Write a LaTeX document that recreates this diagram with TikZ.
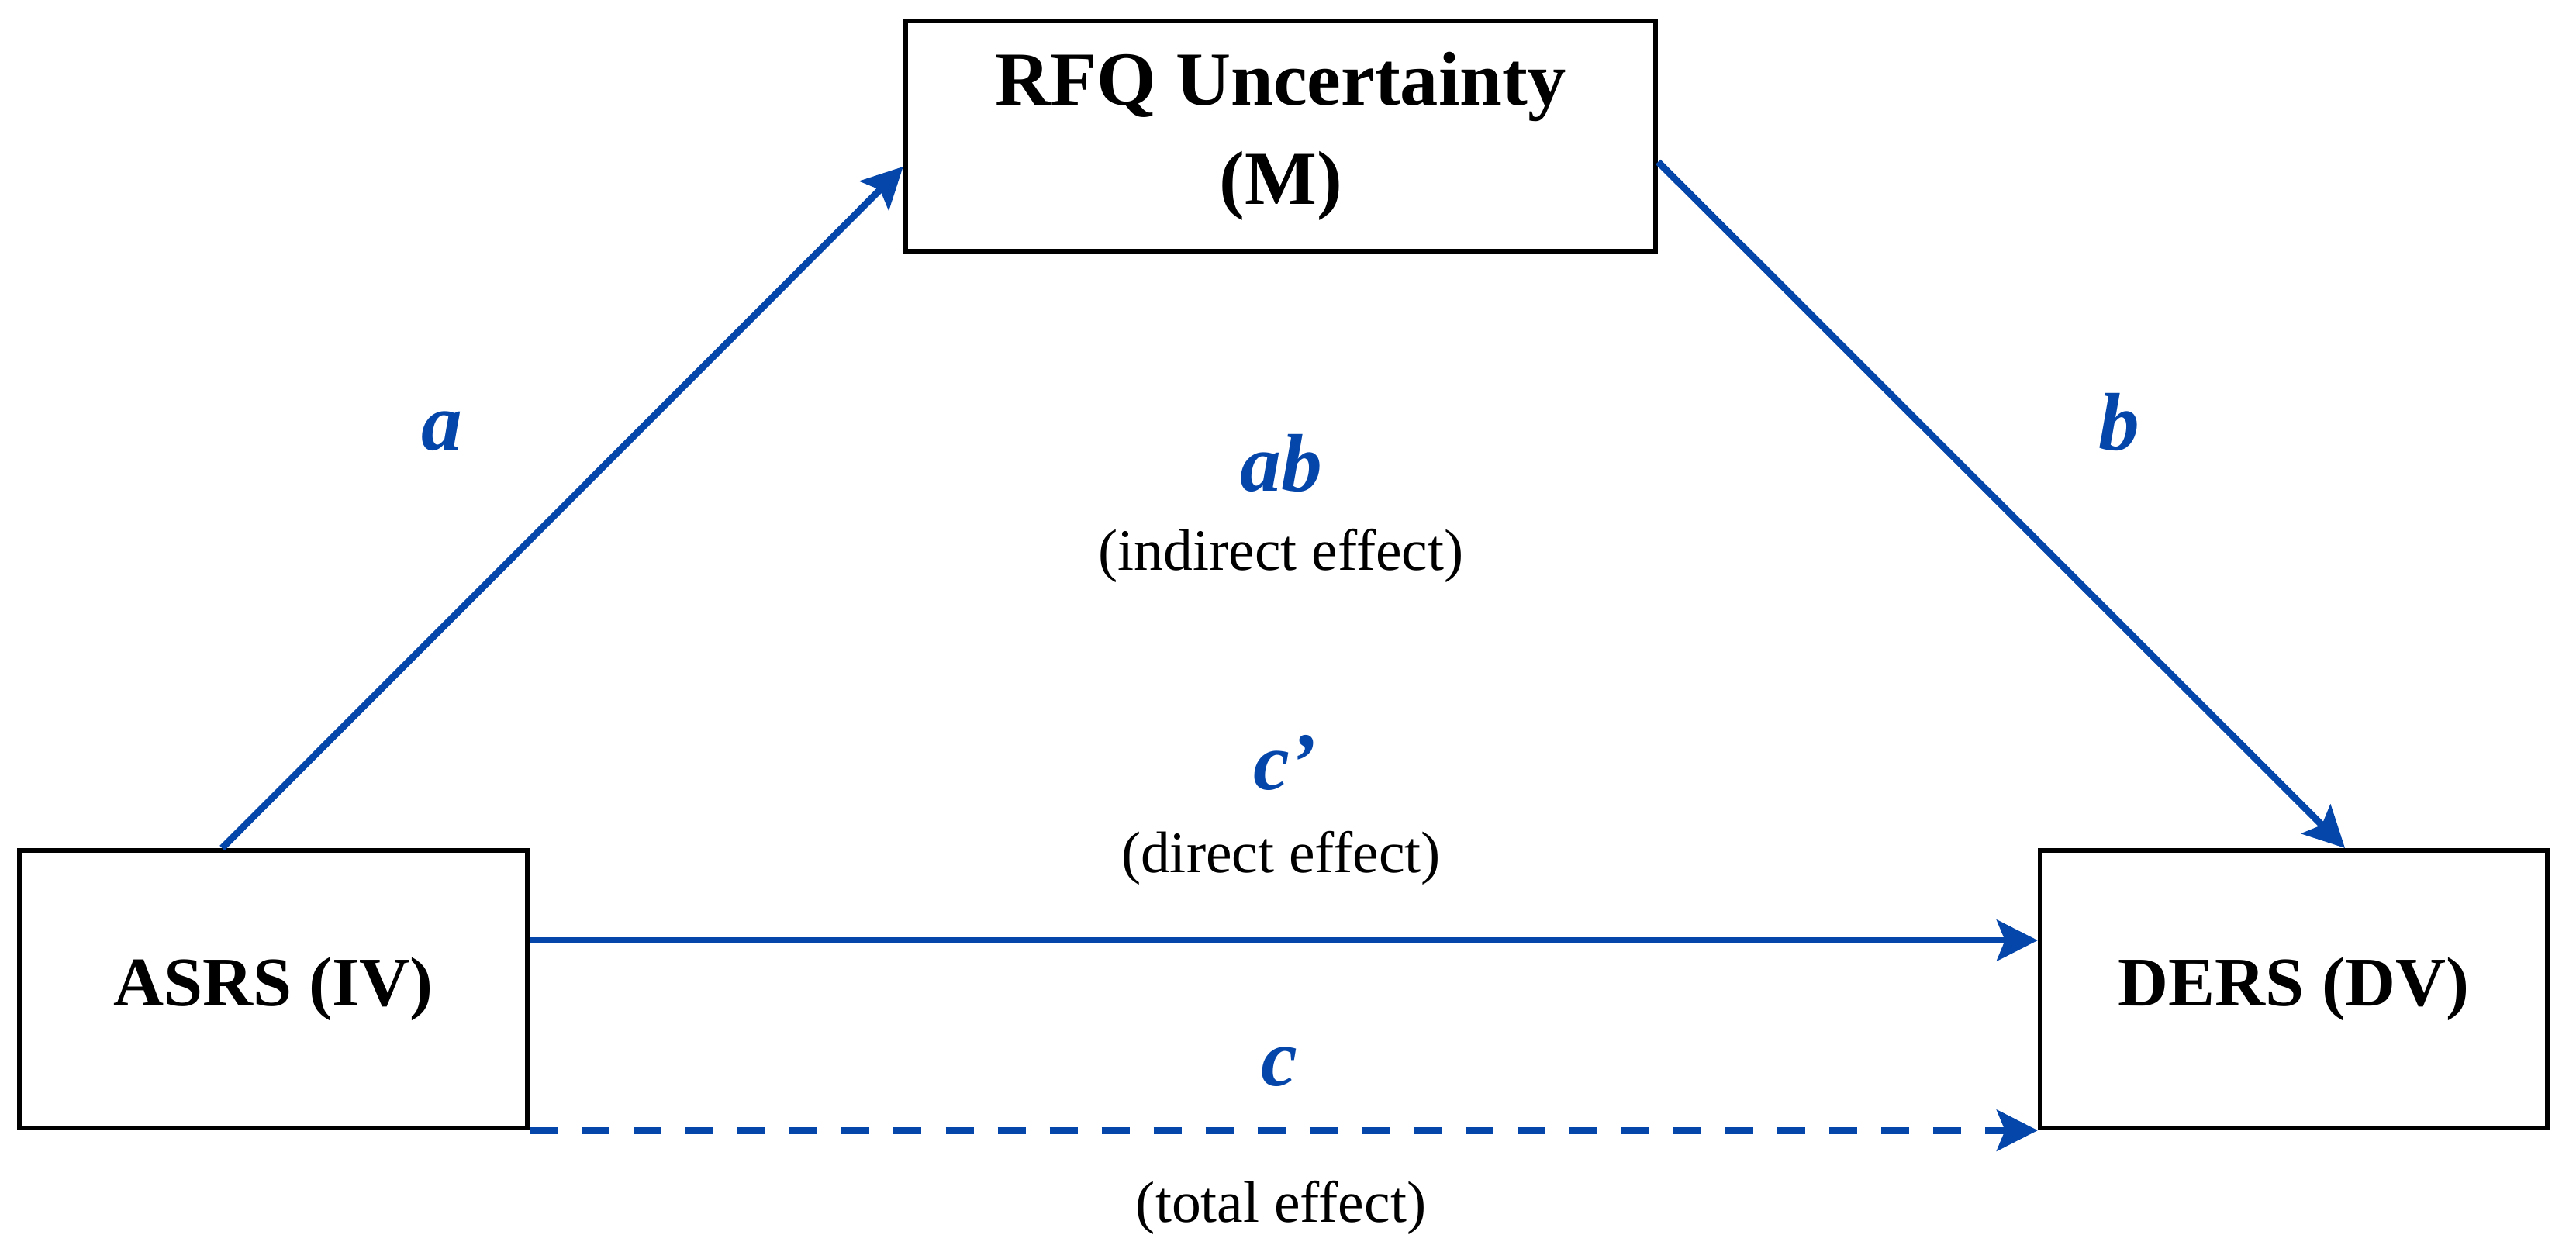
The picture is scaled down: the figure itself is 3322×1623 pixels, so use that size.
\documentclass[tikz,border=0pt]{standalone}
\usepackage{fontspec}
\setmainfont{Liberation Serif}
\usetikzlibrary{arrows.meta,calc}
\definecolor{pathblue}{RGB}{5,70,170}
\begin{document}
\begin{tikzpicture}[x=0.01cm,y=-0.01cm,
 varbox/.style={draw=black, line width=1.7pt, inner sep=0pt, align=center, font=\fontsize{25.6}{33}\selectfont\bfseries},
 patharrow/.style={draw=pathblue, line width=2.5pt, -{Stealth[length=15pt,width=15pt,inset=3pt]}},
 dashedarrow/.style={patharrow, dash pattern=on 0.36cm off 0.31cm},
 coef/.style={text=pathblue, font=\fontsize{30}{36}\selectfont\bfseries\itshape, anchor=base, inner sep=0pt},
 effect/.style={text=black, font=\fontsize{21.5}{26}\selectfont, anchor=base, inner sep=0pt}]
\useasboundingbox (0,0) rectangle (3322,1623);
\fill[white] (0,0) rectangle (3322,1623);
% variable boxes
\node[varbox, minimum width=9.67cm, minimum height=2.97cm, font=\fontsize{28}{36.4}\selectfont\bfseries] (rfq) at (1651.5,175.5) {RFQ Uncertainty\\(M)};
\node[varbox, minimum width=6.55cm, minimum height=3.58cm] (asrs) at (352.5,1276) {ASRS (IV)};
\node[varbox, minimum width=6.54cm, minimum height=3.58cm] (ders) at (2958,1276) {DERS (DV)};
% connector end points on the boxes
\coordinate (aStart) at ($(asrs.north west)!0.4!(asrs.north east)$);
\coordinate (aEnd) at ($(rfq.north west)!0.63!(rfq.south west)$);
\coordinate (bStart) at ($(rfq.north east)!0.61!(rfq.south east)$);
\coordinate (bEnd) at ($(ders.north west)!0.6!(ders.north east)$);
\coordinate (cpStart) at ($(asrs.north east)!0.327!(asrs.south east)$);
% paths
\draw[patharrow] (aStart) -- (aEnd);
\draw[patharrow] (bStart) -- (bEnd);
\draw[patharrow] (cpStart) -- (cpStart -| ders.west);
\draw[dashedarrow] (asrs.south east) -- (ders.south west);
% labels
\node[coef] (la) at (570,580) {a};
\node[coef] (lb) at (2733,580) {b};
\node[coef] (lab) at (1652,633) {ab};
\node[effect] (lind) at (1652,735) {(indirect effect)};
\node[coef] (lcp) at (1657,1018) {c’};
\node[effect] (ldir) at (1652,1125) {(direct effect)};
\node[coef] (lc) at (1650,1400) {c};
\node[effect] (ltot) at (1652,1576) {(total effect)};
\end{tikzpicture}
\end{document}
